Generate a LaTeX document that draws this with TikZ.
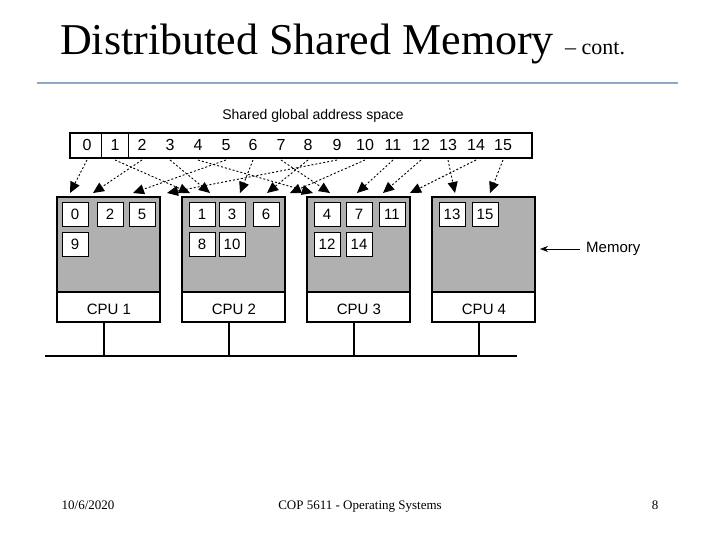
\documentclass[tikz,border=0pt]{standalone}
\usepackage{fontspec}
\setmainfont{Liberation Serif}
\newfontfamily\diagfont{Liberation Sans}
\usetikzlibrary{arrows.meta,positioning}
\definecolor{rulecol}{RGB}{140,170,200}
\definecolor{memgray}{RGB}{176,176,176}
\tikzset{
	% boxes
	membox/.style  ={draw=black,line width=1.6pt},
	cell/.style    ={fill=white,draw=black,line width=0.6pt,minimum width=26pt,minimum height=24pt,inner sep=0pt,font=\diagfont\fontsize{15}{15}\selectfont},
	addr/.style    ={inner sep=0pt,font=\diagfont\fontsize{16}{16}\selectfont},
	cpu/.style     ={inner sep=0pt,font=\diagfont\fontsize{15}{15}\selectfont},
	% arrow
	maparrow/.style={-{Triangle[length=11pt,width=10pt]},dash pattern=on 2pt off 2pt,line width=0.9pt},
	bus/.style     ={line width=2.4pt},
	foot/.style    ={anchor=base,inner sep=0pt,font=\fontsize{13}{13}\selectfont}
}
\begin{document}
\begin{tikzpicture}[x=1pt,y=-1pt]
	\useasboundingbox (0,0) rectangle (720,540);
	% title
	\node[anchor=base west,inner sep=0pt,font=\fontsize{44}{44}\selectfont] (title) at (60,55) {Distributed Shared Memory};
	\node[anchor=base west,inner sep=0pt,font=\fontsize{22}{22}\selectfont] (cont) at (565,55) {-- cont.};
	\draw[rulecol,line width=1.2pt] (37,83) -- (678,83);
	% address space
	\node[addr,font=\diagfont\fontsize{14}{14}\selectfont] (space) at (313,116) {Shared global address space};
	\draw[line width=1.2pt] (70,133) rectangle (532,158);
	\draw[line width=0.8pt] (101,133) -- (101,158) (128,133) -- (128,158);
	\foreach \i/\x in {0/87,1/115,2/142,3/170,4/198,5/226,6/253,7/281,8/308,9/337,10/365,11/393,12/421,13/448,14/476,15/503}
		\node[addr] (a\i) at (\x,145) {\i};
	% memories
	\foreach \k/\x in {1/57,2/182,3/307,4/432}{
		\fill[memgray] (\x,197) rectangle ++(103,95);
		\draw[membox] (\x,197) rectangle ++(103,125);
		\draw[line width=1.2pt] (\x,292) -- ++(103,0);
		\node[cpu] (cpu\k) at ({\x+52},309) {CPU \k};
		\coordinate (c\k) at ({\x+47},322);
	}
	\foreach \n/\x/\y in {0/75/214,2/110/214,5/142/214,9/75/244,
		1/202/214,3/232/214,6/266/214,8/202/244,10/232/244,
		4/327/214,7/359/214,11/392/214,12/327/244,14/359/244,
		13/452/214,15/485/214}
		\node[cell] (m\n) at (\x,\y) {\n};
	% mapping
	\foreach \i/\t in {0/70,2/93,5/133,9/167,1/190,3/210,6/240,8/267,10/290,
		4/313,7/330,11/357,12/383,14/410,13/455,15/490}{
		\coordinate (t\i) at (\t,193);
		\draw[maparrow] (a\i.south |- 0,160) -- (t\i);
	}
	% bus
	\coordinate (busl) at (45,356);
	\coordinate (busr) at (517,356);
	\draw[bus] (busl) -- (busr);
	\foreach \k in {1,...,4}
		\draw[line width=1.4pt] (c\k) -- (c\k |- busl);
	% memory label
	\node[cpu,anchor=west] (memlabel) at (586,249) {Memory};
	\draw[-{Stealth[length=8pt]},line width=0.6pt] ([xshift=-6pt]memlabel.west) -- (540,249);
	% footer
	\node[foot] (date) at (88,509) {10/6/2020};
	\node[foot] (course) at (360,509) {COP 5611 - Operating Systems};
	\node[foot] (page) at (655,509) {8};
\end{tikzpicture}
\end{document}
